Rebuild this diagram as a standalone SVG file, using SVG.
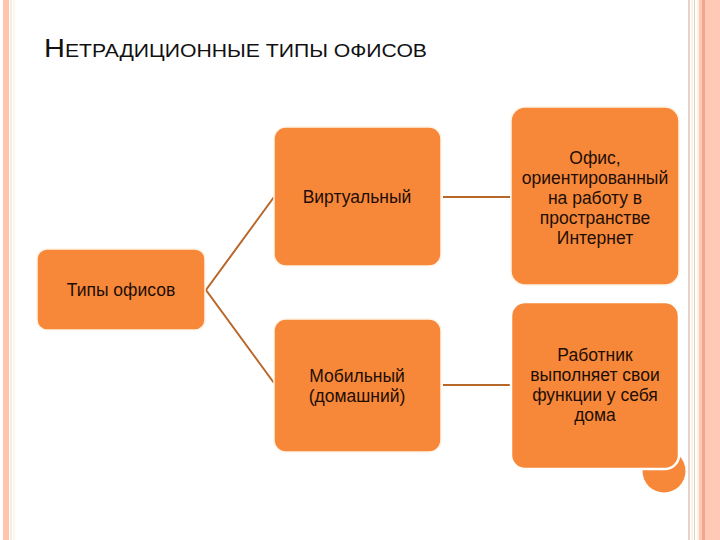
<svg xmlns="http://www.w3.org/2000/svg" width="720" height="540" viewBox="0 0 720 540">
<style>
.box{fill:#F7883A;stroke:#FFF3E6;stroke-width:1.5}
.t{font-family:"Liberation Sans",Arial,sans-serif;font-size:17.5px;fill:#1E0E04;text-anchor:middle}
.con{stroke:#B8672A;stroke-width:2;fill:none}
</style>
<rect width="720" height="540" fill="#FFFFFF"/>
<g id="frame">
<rect x="3" y="0" width="6" height="540" fill="#FFC4AE"/>
<line x1="11" y1="0" x2="11" y2="540" stroke="#F6D6CA" stroke-width="1"/>
<line x1="14" y1="0" x2="14" y2="540" stroke="#FAF0DA" stroke-width="1"/>
<line x1="689" y1="0" x2="689" y2="540" stroke="#E2C2B2" stroke-width="1.5"/>
<line x1="692" y1="0" x2="692" y2="540" stroke="#F4E6DC" stroke-width="1"/>
<line x1="694.5" y1="0" x2="694.5" y2="540" stroke="#E8CFC0" stroke-width="1"/>
<rect x="697" y="0" width="2" height="540" fill="#FDF2E0"/>
<rect x="699" y="0" width="21" height="540" fill="#FFC9B6"/>
<rect x="702" y="0" width="3" height="540" fill="#F2A68E"/>
</g>
<text id="title" x="44" y="57" font-family="Liberation Sans, Arial, sans-serif" fill="#111" textLength="383" lengthAdjust="spacingAndGlyphs"><tspan font-size="26">Н</tspan><tspan font-size="19">ЕТРАДИЦИОННЫЕ ТИПЫ ОФИСОВ</tspan></text>
<g id="connectors">
<polyline class="con" points="274,197 206,290 274,383"/>
<line class="con" x1="443" y1="197" x2="510" y2="197"/>
<line class="con" x1="443" y1="385" x2="510" y2="385"/>
</g>
<g id="root">
<rect class="box" x="37" y="249" width="168" height="81" rx="10"/>
<text class="t" x="121" y="296">Типы офисов</text>
</g>
<g id="virtual">
<rect class="box" x="274" y="127" width="167" height="139" rx="12"/>
<text class="t" x="357" y="203">Виртуальный</text>
</g>
<g id="mobile">
<rect class="box" x="274" y="319" width="167" height="133" rx="12"/>
<text class="t" x="357" y="382">Мобильный</text>
<text class="t" x="357" y="402">(домашний)</text>
</g>
<g id="office">
<rect class="box" x="511" y="107" width="168" height="178" rx="14"/>
<text class="t" x="595" y="164">Офис,</text>
<text class="t" x="595" y="184">ориентированный</text>
<text class="t" x="595" y="204">на работу в</text>
<text class="t" x="595" y="224">пространстве</text>
<text class="t" x="595" y="244">Интернет</text>
</g>
<g id="worker">
<circle cx="664" cy="471" r="21.5" fill="#F7883A"/>
<rect x="511" y="302" width="168" height="167" rx="14" fill="#F7883A" stroke="#FFFFFF" stroke-width="2.5"/>
<text class="t" x="595" y="361">Работник</text>
<text class="t" x="595" y="381">выполняет свои</text>
<text class="t" x="595" y="401">функции у себя</text>
<text class="t" x="595" y="421">дома</text>
</g>
</svg>
